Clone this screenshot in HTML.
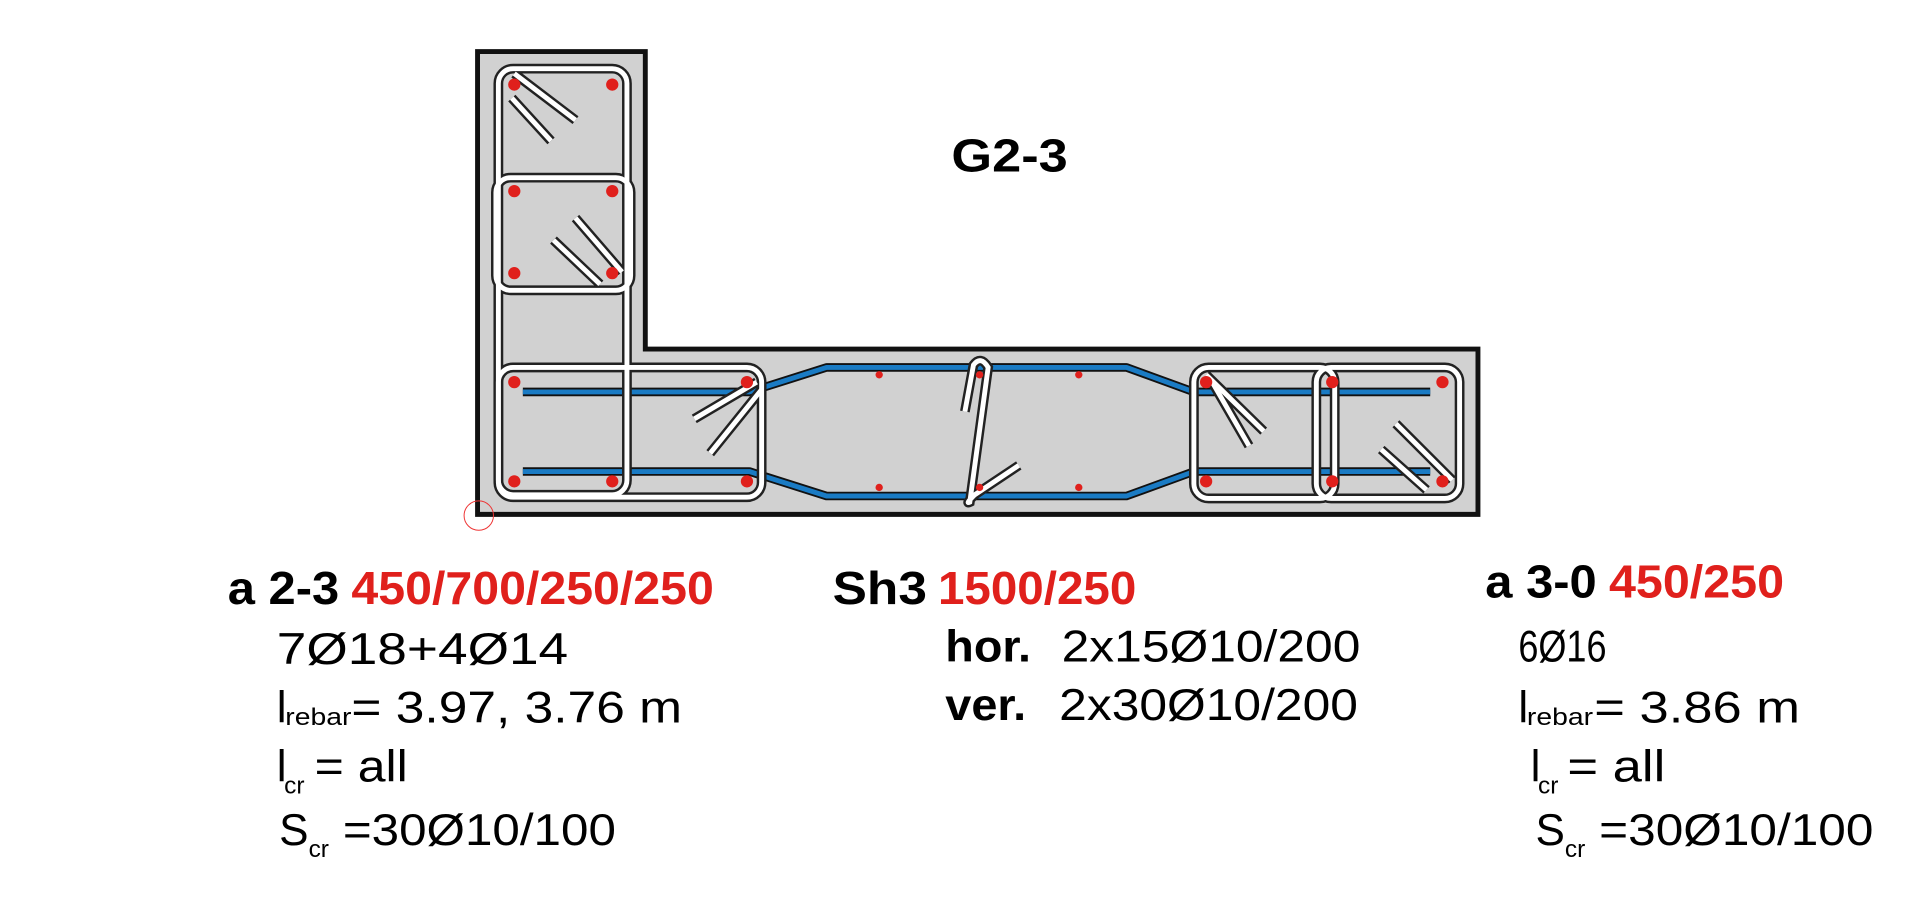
<!DOCTYPE html>
<html><head><meta charset="utf-8"><style>html,body{margin:0;padding:0;background:#fff}svg{display:block}</style></head>
<body>
<svg width="1920" height="921" viewBox="0 0 1568 752" xmlns="http://www.w3.org/2000/svg" font-family="Liberation Sans, Arial, sans-serif">
<rect width="1568" height="752" fill="#fff"/>
<!-- concrete -->
<path d="M390,42 L527,42 L527,285 L1207,285 L1207,420 L390,420 Z" fill="#d1d1d1" stroke="#111" stroke-width="4"/>
<!-- blue bars -->
<g fill="none" stroke-linejoin="round">
<g stroke="#111" stroke-width="7">
<path d="M427,320 L612,320 L675,300 L920,300 L975,320 L1168,320"/>
<path d="M427,385 L612,385 L675,405 L920,405 L975,385 L1168,385"/>
</g>
<g stroke="#1a7bc4" stroke-width="4">
<path d="M427,320 L612,320 L675,300 L920,300 L975,320 L1168,320"/>
<path d="M427,385 L612,385 L675,405 L920,405 L975,385 L1168,385"/>
</g>
</g>
<!-- stirrups -->
<g fill="none" stroke-linecap="butt">
<g stroke="#222" stroke-width="8">
<rect x="407" y="56" width="105" height="348" rx="12"/>
<rect x="405" y="145" width="110" height="92" rx="12"/>
<rect x="407" y="300" width="215" height="106" rx="12"/>
<rect x="975" y="300" width="115" height="107" rx="12"/>
<rect x="1075" y="300" width="117" height="107" rx="12"/>
<path d="M420,60 L470,98 M418,80 L450,115"/>
<path d="M470,178 L508,222 M452,196 L490,232"/>
<path d="M618,312 L567,342 M622,318 L580,370"/>
<path d="M985,306 L1032,352 M990,312 L1020,364"/>
<path d="M1140,346 L1186,392 M1128,367 L1165,400"/>
<path d="M788,336 L795,298 Q801,290 807,300 L792,410 Q788,412 796,404 L832,380"/>
</g>
<g stroke="#fff" stroke-width="4">
<rect x="407" y="56" width="105" height="348" rx="12"/>
<rect x="405" y="145" width="110" height="92" rx="12"/>
<rect x="407" y="300" width="215" height="106" rx="12"/>
<rect x="975" y="300" width="115" height="107" rx="12"/>
<rect x="1075" y="300" width="117" height="107" rx="12"/>
<path d="M420,60 L470,98 M418,80 L450,115"/>
<path d="M470,178 L508,222 M452,196 L490,232"/>
<path d="M618,312 L567,342 M622,318 L580,370"/>
<path d="M985,306 L1032,352 M990,312 L1020,364"/>
<path d="M1140,346 L1186,392 M1128,367 L1165,400"/>
<path d="M788,336 L795,298 Q801,290 807,300 L792,410 Q788,412 796,404 L832,380"/>
</g>
</g>
<!-- rebars -->
<g fill="#e0201c">
<circle cx="420" cy="69" r="5"/><circle cx="500" cy="69" r="5"/>
<circle cx="420" cy="156" r="5"/><circle cx="500" cy="156" r="5"/>
<circle cx="420" cy="223" r="5"/><circle cx="500" cy="223" r="5"/>
<circle cx="420" cy="312" r="5"/><circle cx="610" cy="312" r="5"/>
<circle cx="420" cy="393" r="5"/><circle cx="500" cy="393" r="5"/><circle cx="610" cy="393" r="5"/>
<circle cx="985" cy="312" r="5"/><circle cx="1088" cy="312" r="5"/><circle cx="1178" cy="312" r="5"/>
<circle cx="985" cy="393" r="5"/><circle cx="1088" cy="393" r="5"/><circle cx="1178" cy="393" r="5"/>
<circle cx="718" cy="306" r="3"/><circle cx="881" cy="306" r="3"/><circle cx="800" cy="306" r="3"/>
<circle cx="718" cy="398" r="3"/><circle cx="881" cy="398" r="3"/><circle cx="800" cy="398" r="3"/>
</g>
<circle cx="391" cy="421" r="12" fill="none" stroke="#e33" stroke-width="0.8"/>
<!-- title -->
<text x="777" y="140" font-size="38" font-weight="bold" textLength="95" lengthAdjust="spacingAndGlyphs">G2-3</text>
<!-- left block -->
<g font-size="38">
<text x="186" y="493" font-weight="bold" textLength="91" lengthAdjust="spacingAndGlyphs">a 2-3</text>
<text x="287" y="493" font-weight="bold" fill="#e0201c" textLength="296" lengthAdjust="spacingAndGlyphs">450/700/250/250</text>
<text x="680" y="493" font-weight="bold" textLength="77" lengthAdjust="spacingAndGlyphs">Sh3</text>
<text x="766" y="493" font-weight="bold" fill="#e0201c" textLength="162" lengthAdjust="spacingAndGlyphs">1500/250</text>
<text x="1213" y="488" font-weight="bold" textLength="91" lengthAdjust="spacingAndGlyphs">a 3-0</text>
<text x="1314" y="488" font-weight="bold" fill="#e0201c" textLength="143" lengthAdjust="spacingAndGlyphs">450/250</text>
</g>
<g font-size="36">
<text x="226" y="542" textLength="238" lengthAdjust="spacingAndGlyphs">7Ø18+4Ø14</text>
<text x="226" y="590">l</text>
<text x="233" y="592" font-size="20" textLength="54" lengthAdjust="spacingAndGlyphs">rebar</text>
<text x="287" y="590" textLength="270" lengthAdjust="spacingAndGlyphs">= 3.97, 3.76 m</text>
<text x="226" y="638">l</text>
<text x="232" y="648" font-size="20">cr</text>
<text x="257" y="638" textLength="76" lengthAdjust="spacingAndGlyphs">= all</text>
<text x="228" y="690">S</text>
<text x="252" y="700" font-size="20">cr</text>
<text x="280" y="690" textLength="223" lengthAdjust="spacingAndGlyphs">=30Ø10/100</text>

<text x="772" y="540" font-weight="bold" textLength="70" lengthAdjust="spacingAndGlyphs">hor.</text>
<text x="867" y="540" textLength="244" lengthAdjust="spacingAndGlyphs">2x15Ø10/200</text>
<text x="772" y="588" font-weight="bold" textLength="66" lengthAdjust="spacingAndGlyphs">ver.</text>
<text x="865" y="588" textLength="244" lengthAdjust="spacingAndGlyphs">2x30Ø10/200</text>

<text x="1240" y="540" textLength="72" lengthAdjust="spacingAndGlyphs">6Ø16</text>
<text x="1240" y="590">l</text>
<text x="1247" y="592" font-size="20" textLength="54" lengthAdjust="spacingAndGlyphs">rebar</text>
<text x="1302" y="590" textLength="168" lengthAdjust="spacingAndGlyphs">= 3.86 m</text>
<text x="1250" y="638">l</text>
<text x="1256" y="648" font-size="20">cr</text>
<text x="1280" y="638" textLength="80" lengthAdjust="spacingAndGlyphs">= all</text>
<text x="1254" y="690">S</text>
<text x="1278" y="700" font-size="20">cr</text>
<text x="1306" y="690" textLength="224" lengthAdjust="spacingAndGlyphs">=30Ø10/100</text>
</g>
</svg>
</body></html>
